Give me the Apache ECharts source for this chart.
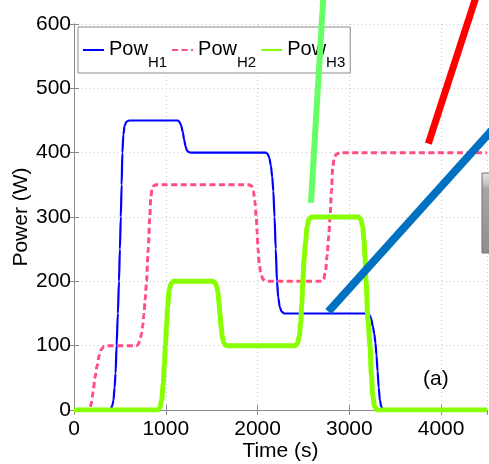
<!DOCTYPE html>
<html>
<head>
<meta charset="utf-8">
<script src="https://cdn.jsdelivr.net/npm/echarts@6/dist/echarts.min.js"></script>
<style>
  html, body { margin: 0; padding: 0; background: #fff; }
  #chart { width: 489px; height: 464px; }
</style>
</head>
<body>
<div id="chart"></div>
<script>
// Heater power profiles: [time (s), power (W)]
const seriesNames = ['Pow_H1', 'Pow_H2', 'Pow_H3'];

const powH1 = [
  [0, 0], [385, 0], [405, 3], [420, 8], [430, 15], [442, 35], [453, 57], [464, 100],
  [478, 150], [490, 200], [500, 250], [510, 300], [519, 350], [527, 400], [538, 428],
  [552, 442], [570, 448], [600, 450],
  [1130, 450], [1150, 448], [1168, 442], [1185, 432], [1200, 420], [1215, 410],
  [1232, 403], [1255, 400.5], [1280, 400],
  [2090, 400], [2110, 398], [2128, 392], [2145, 380], [2160, 362], [2172, 340],
  [2185, 300], [2198, 250], [2212, 200], [2225, 175], [2242, 160], [2262, 153], [2290, 150],
  [3195, 150], [3218, 148], [3238, 142], [3256, 130], [3272, 118], [3285, 104],
  [3296, 85], [3308, 60], [3320, 35], [3333, 15], [3348, 5], [3370, 0], [4500, 0]
];

const powH2 = [
  [0, 0], [170, 0], [188, 10], [208, 28], [228, 50], [250, 68], [275, 85], [300, 95],
  [330, 99], [360, 100],
  [680, 100], [700, 102], [718, 108], [736, 119], [750, 132], [761, 148], [776, 172],
  [790, 200], [808, 249], [826, 300], [837, 332], [850, 343], [865, 348], [890, 350],
  [1910, 350], [1935, 348], [1955, 340], [1970, 325], [1986, 300], [1996, 275],
  [2005, 250], [2018, 228], [2035, 212], [2060, 203], [2095, 200],
  [2700, 200], [2720, 203], [2740, 215], [2758, 240], [2775, 270], [2790, 300],
  [2805, 340], [2818, 375], [2835, 392], [2860, 398], [2900, 400], [4500, 400]
];

const powH3 = [
  [0, 0], [910, 0], [935, 3], [955, 15], [972, 40], [985, 70], [996, 100], [1008, 130],
  [1020, 160], [1035, 185], [1055, 196], [1085, 200],
  [1510, 200], [1535, 198], [1555, 192], [1568, 182], [1578, 170], [1590, 150],
  [1602, 130], [1615, 115], [1630, 105], [1650, 101], [1675, 100],
  [2410, 100], [2435, 103], [2455, 115], [2470, 135], [2482, 165], [2493, 200],
  [2508, 235], [2522, 260], [2540, 285], [2560, 297], [2590, 300],
  [3100, 300], [3125, 296], [3145, 285], [3160, 265], [3172, 235], [3182, 200],
  [3203, 140], [3225, 100], [3240, 55], [3255, 22], [3275, 6], [3300, 0], [4500, 0]
];

// Callout strokes laid over the plot, in data coordinates
const calloutGreen = [[2582, 322], [2718, 645]];
const calloutRed = [[3861, 414], [4387, 645]];
const calloutBlue = [[2771, 153], [4642, 449]];

// Axis ranges and tick steps
const timeRange = [0, 4500];
const timeStep = 1000;
const powerRange = [0, 600];
const powerStep = 100;

const AXIS_GRAY = '#8c8c8c';
const GRID_GRAY = '#cdcdcd';
const FONT = "'Liberation Sans', Arial, sans-serif";

const lineColors = { Pow_H1: '#0000ff', Pow_H2: '#ff4f80', Pow_H3: '#88ff00' };

function dataSeries(name, data, width, type, z) {
  return {
    name, type: 'line', data, z,
    symbol: 'none', smooth: 0.3, smoothMonotone: 'x',
    lineStyle: { color: lineColors[name], width, type },
    itemStyle: { color: lineColors[name] },
    silent: true
  };
}

function callout(data, color, width) {
  return {
    type: 'line', data, z: 10, clip: false, symbol: 'none', silent: true,
    lineStyle: { color, width, cap: 'butt' }
  };
}

const plainNumber = v => String(v);

const chart = echarts.init(document.getElementById('chart'), null, { renderer: 'canvas' });

chart.setOption({
  animation: false,
  backgroundColor: '#fff',
  grid: { left: 74, right: 2, top: 24, bottom: 54, containLabel: false, outerBoundsMode: 'none' },
  legend: {
    data: seriesNames,
    left: 78, top: 27,
    padding: [3, 5, 3, 4],
    itemGap: 4, itemWidth: 21, itemHeight: 14,
    borderColor: AXIS_GRAY, borderWidth: 1, backgroundColor: '#fff',
    selectedMode: false,
    // line-only keys: hide the marker drawn in the middle of each key
    itemStyle: { color: 'rgba(0,0,0,0)', borderColor: 'rgba(0,0,0,0)', borderWidth: 0 },
    formatter: n => {
      const [base, sub] = n.split('_');
      return '{p|' + base + '}{s|' + sub + '}';
    },
    textStyle: {
      color: '#000',
      lineHeight: 40,
      rich: {
        p: { fontFamily: FONT, fontSize: 20, lineHeight: 40, verticalAlign: 'bottom', padding: [0, 0, 11, 0], color: '#000' },
        s: { fontFamily: FONT, fontSize: 15, lineHeight: 40, verticalAlign: 'bottom', color: '#000' }
      }
    }
  },
  xAxis: [{
    type: 'value', min: timeRange[0], max: timeRange[1], interval: timeStep,
    name: 'Time (s)', nameLocation: 'middle', nameGap: 31, nameMoveOverlap: false,
    nameTextStyle: { color: '#000', fontSize: 21, fontFamily: FONT },
    axisLine: { show: true, lineStyle: { color: AXIS_GRAY, width: 1 } },
    axisTick: { show: true, inside: true, length: 5, lineStyle: { color: AXIS_GRAY } },
    axisLabel: { color: '#000', fontSize: 21, fontFamily: FONT, margin: 9, showMaxLabel: false, formatter: plainNumber },
    splitLine: { show: true, lineStyle: { color: GRID_GRAY, width: 1, type: [1, 3] } }
  }, {
    type: 'value', position: 'top', min: timeRange[0], max: timeRange[1], interval: timeStep,
    axisLine: { show: true, lineStyle: { color: AXIS_GRAY, width: 1 } },
    axisTick: { show: true, inside: true, length: 5, lineStyle: { color: AXIS_GRAY } },
    axisLabel: { show: false }, splitLine: { show: false }
  }],
  yAxis: [{
    type: 'value', min: powerRange[0], max: powerRange[1], interval: powerStep,
    name: 'Power (W)', nameLocation: 'middle', nameGap: 42, nameMoveOverlap: false,
    nameTextStyle: { color: '#000', fontSize: 21, fontFamily: FONT },
    axisLine: { show: true, lineStyle: { color: AXIS_GRAY, width: 1 } },
    axisTick: { show: true, inside: true, length: 5, lineStyle: { color: AXIS_GRAY } },
    axisLabel: { color: '#000', fontSize: 21, fontFamily: FONT, margin: 3, formatter: plainNumber },
    splitLine: { show: true, lineStyle: { color: GRID_GRAY, width: 1, type: [1, 3] } }
  }, {
    type: 'value', position: 'right', min: powerRange[0], max: powerRange[1], interval: powerStep,
    axisLine: { show: true, lineStyle: { color: AXIS_GRAY, width: 1 } },
    axisTick: { show: true, inside: true, length: 5, lineStyle: { color: AXIS_GRAY } },
    axisLabel: { show: false }, splitLine: { show: false }
  }],
  series: [
    dataSeries('Pow_H1', powH1, 2.2, 'solid', 3),
    dataSeries('Pow_H2', powH2, 3, [6, 3.5], 4),
    dataSeries('Pow_H3', powH3, 5, 'solid', 5),
    callout(calloutGreen, '#66ff66', 6),
    callout(calloutRed, '#ff0000', 7),
    callout(calloutBlue, '#0070c0', 8)
  ],
  graphic: [
    {
      type: 'text', left: 423, top: 369, z: 6,
      style: { text: '(a)', fontSize: 21, fontFamily: FONT, fill: '#000' }
    },
    {
      type: 'rect', z: 12,
      shape: { x: 482, y: 173, width: 10, height: 80 },
      style: {
        fill: new echarts.graphic.LinearGradient(0, 0, 0, 1, [
          { offset: 0, color: '#e4e4e4' },
          { offset: 0.14, color: '#c4c4c4' },
          { offset: 0.2, color: '#a6a6a6' },
          { offset: 1, color: '#8e8e8e' }
        ]),
        stroke: '#707070', lineWidth: 1
      }
    }
  ]
});
</script>
</body>
</html>
